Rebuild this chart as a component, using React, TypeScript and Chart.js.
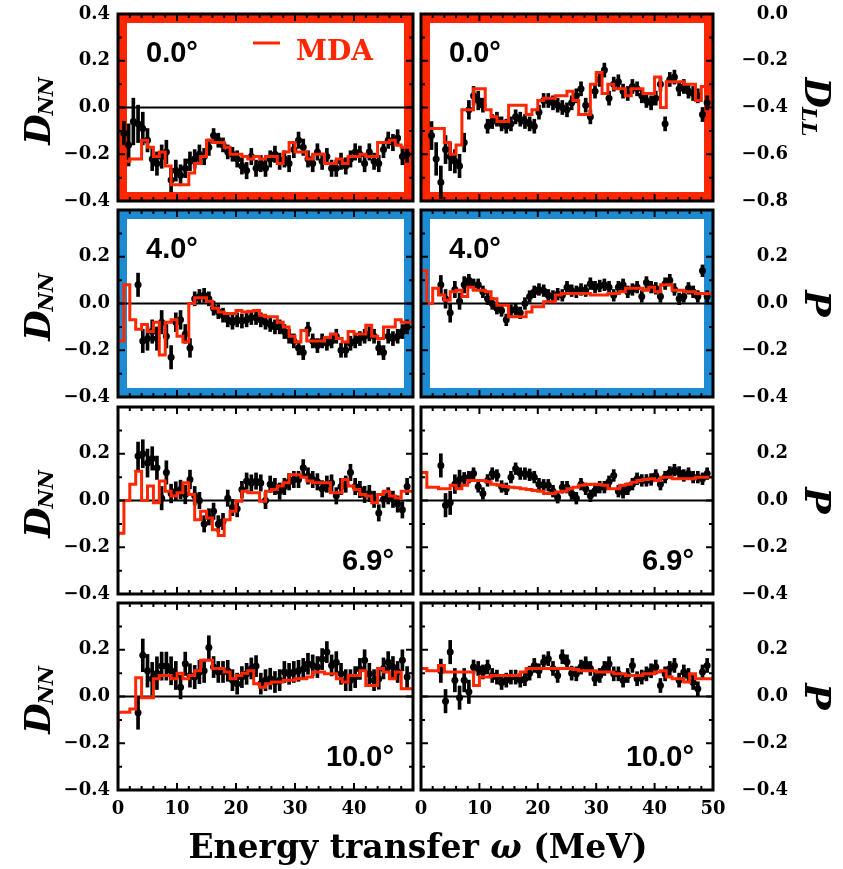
import React, { useEffect, useRef } from 'react';
import { Chart, registerables } from 'chart.js';

Chart.register(...registerables);

// ---------------- data ----------------
const energies = [
  1.0, 1.8, 2.6, 3.4, 4.2, 5.0, 5.8, 6.6, 7.4, 8.2,
  9.0, 9.8, 10.6, 11.4, 12.2, 13.0, 13.8, 14.6, 15.4, 16.2,
  17.0, 17.8, 18.6, 19.4, 20.2, 21.0, 21.8, 22.6, 23.4, 24.2,
  25.0, 25.8, 26.6, 27.4, 28.2, 29.0, 29.8, 30.6, 31.4, 32.2,
  33.0, 33.8, 34.6, 35.4, 36.2, 37.0, 37.8, 38.6, 39.4, 40.2,
  41.0, 41.8, 42.6, 43.4, 44.2, 45.0, 45.8, 46.6, 47.4, 48.2,
  49.0,
];

const mdaEnergy = [
  0, 1, 2, 3, 4, 5, 6, 7, 8, 9,
  10, 11, 12, 13, 14, 15, 16, 17, 18, 19,
  20, 21, 22, 23, 24, 25, 26, 27, 28, 29,
  30, 31, 32, 33, 34, 35, 36, 37, 38, 39,
  40, 41, 42, 43, 44, 45, 46, 47, 48, 49,
  50,
];

const xTicks = [0, 10, 20, 30, 40, 50];
const yTicksDNN = [-0.4, -0.2, 0.0, 0.2, 0.4];
const yTicksDLL = [-0.8, -0.6, -0.4, -0.2, 0.0];

// 0.0 deg, D_NN
const dnn00 = [
  -0.11, -0.16, -0.06, -0.07, -0.09, -0.14, -0.22, -0.24, -0.21, -0.19,
  -0.31, -0.27, -0.29, -0.26, -0.23, -0.22, -0.2, -0.21, -0.17, -0.12,
  -0.14, -0.16, -0.19, -0.2, -0.22, -0.25, -0.27, -0.21, -0.26, -0.24,
  -0.26, -0.22, -0.2, -0.23, -0.22, -0.24, -0.18, -0.14, -0.17, -0.22,
  -0.24, -0.19, -0.23, -0.21, -0.26, -0.26, -0.23, -0.25, -0.22, -0.19,
  -0.2, -0.24, -0.19, -0.23, -0.24, -0.18, -0.14, -0.15, -0.13, -0.21,
  -0.2,
];
const dnn00Err = [
  0.05, 0.09, 0.1, 0.08, 0.07, 0.05, 0.05, 0.05, 0.05, 0.05,
  0.05, 0.045, 0.045, 0.04, 0.04, 0.04, 0.04, 0.035, 0.035, 0.03,
  0.03, 0.03, 0.03, 0.03, 0.035, 0.035, 0.035, 0.035, 0.035, 0.035,
  0.035, 0.035, 0.035, 0.035, 0.035, 0.035, 0.035, 0.035, 0.035, 0.035,
  0.035, 0.035, 0.035, 0.035, 0.035, 0.035, 0.035, 0.035, 0.035, 0.035,
  0.035, 0.035, 0.035, 0.035, 0.035, 0.035, 0.035, 0.035, 0.035, 0.035,
  0.035,
];
const dnn00Mda = [
  -0.18, -0.23, -0.23, -0.22, -0.22, -0.14, -0.17, -0.21, -0.19, -0.25,
  -0.33, -0.33, -0.33, -0.28, -0.24, -0.21, -0.14, -0.15, -0.15, -0.17,
  -0.2, -0.2, -0.21, -0.22, -0.21, -0.22, -0.21, -0.21, -0.24, -0.19,
  -0.15, -0.19, -0.19, -0.22, -0.2, -0.2, -0.24, -0.24, -0.22, -0.24,
  -0.21, -0.21, -0.2, -0.21, -0.21, -0.15, -0.15, -0.14, -0.16, -0.17,
  -0.17,
];

// 0.0 deg, D_LL
const dll00 = [
  null, -0.52, -0.62, -0.72, -0.58, -0.61, -0.63, -0.65, -0.55, -0.41,
  -0.35, -0.37, -0.39, -0.48, -0.46, -0.45, -0.47, -0.48, -0.47, -0.44,
  -0.45, -0.46, -0.47, -0.48, -0.42, -0.37, -0.37, -0.38, -0.39, -0.4,
  -0.41, -0.38, -0.35, -0.32, -0.39, -0.44, -0.33, -0.28, -0.24, -0.36,
  -0.3, -0.29, -0.33, -0.34, -0.31, -0.32, -0.35, -0.37, -0.38, -0.36,
  -0.3, -0.47, -0.28, -0.27, -0.32, -0.31, -0.33, -0.34, -0.35, -0.43,
  -0.38,
];
const dll00Err = [
  0, 0.06, 0.07, 0.07, 0.06, 0.06, 0.05, 0.05, 0.04, 0.04,
  0.04, 0.04, 0.03, 0.03, 0.03, 0.03, 0.03, 0.03, 0.03, 0.03,
  0.03, 0.03, 0.03, 0.03, 0.03, 0.03, 0.03, 0.03, 0.03, 0.03,
  0.03, 0.03, 0.03, 0.03, 0.03, 0.03, 0.03, 0.03, 0.03, 0.03,
  0.03, 0.03, 0.03, 0.03, 0.03, 0.03, 0.03, 0.03, 0.03, 0.03,
  0.03, 0.03, 0.03, 0.03, 0.03, 0.03, 0.03, 0.03, 0.03, 0.03,
  0.03,
];
const dll00Mda = [
  -0.22, -0.49, -0.49, -0.49, -0.49, -0.55, -0.6, -0.56, -0.41, -0.41,
  -0.32, -0.32, -0.41, -0.44, -0.46, -0.46, -0.39, -0.39, -0.39, -0.43,
  -0.41, -0.37, -0.36, -0.36, -0.35, -0.35, -0.33, -0.37, -0.43, -0.43,
  -0.3, -0.25, -0.34, -0.3, -0.32, -0.32, -0.35, -0.32, -0.32, -0.34,
  -0.34, -0.27, -0.4, -0.29, -0.29, -0.29, -0.3, -0.3, -0.37, -0.31,
  -0.31,
];

// 4.0 deg, D_NN
const dnn40 = [
  null, null, null, 0.08, -0.16, -0.15, -0.12, -0.15, -0.08, -0.14,
  -0.23, -0.08, -0.07, -0.13, -0.19, 0.02, 0.03, 0.035, 0.02, -0.02,
  -0.035, -0.05, -0.07, -0.08, -0.07, -0.075, -0.07, -0.06, -0.06, -0.07,
  -0.08, -0.09, -0.1, -0.1, -0.12, -0.14, -0.16, -0.19, -0.21, -0.11,
  -0.16, -0.18, -0.16, -0.17, -0.16, -0.14, -0.2, -0.2, -0.17, -0.16,
  -0.15, -0.14, -0.13, -0.14, -0.19, -0.21, -0.14, -0.15, -0.14, -0.12,
  -0.1,
];
const dnn40Err = [
  0, 0, 0, 0.05, 0.05, 0.05, 0.05, 0.05, 0.05, 0.05,
  0.05, 0.04, 0.04, 0.04, 0.04, 0.03, 0.03, 0.03, 0.03, 0.03,
  0.03, 0.03, 0.03, 0.03, 0.03, 0.03, 0.03, 0.03, 0.03, 0.03,
  0.03, 0.03, 0.03, 0.03, 0.03, 0.03, 0.03, 0.03, 0.03, 0.03,
  0.03, 0.03, 0.03, 0.03, 0.03, 0.03, 0.03, 0.03, 0.03, 0.03,
  0.03, 0.03, 0.03, 0.03, 0.03, 0.03, 0.03, 0.03, 0.03, 0.03,
  0.03,
];
const dnn40Mda = [
  0.036, -0.16, 0.08, -0.07, -0.11, -0.09, -0.12, -0.08, -0.22, -0.08,
  -0.07, -0.14, -0.165, 0.0, 0.025, 0.025, 0.01, -0.02, -0.036, -0.043,
  -0.043, -0.03, -0.036, -0.033, -0.03, -0.05, -0.057, -0.057, -0.08, -0.1,
  -0.14, -0.165, -0.115, -0.16, -0.16, -0.16, -0.145, -0.13, -0.15, -0.165,
  -0.12, -0.13, -0.13, -0.093, -0.14, -0.15, -0.1, -0.1, -0.07, -0.08,
  -0.08,
];

// 4.0 deg, P
const p40 = [
  null, null, null, 0.08, 0.02, -0.04, 0.06, 0.01, 0.08, 0.1,
  0.08, 0.08, 0.05, 0.02, 0.0, -0.02, -0.03, -0.07, -0.03, -0.025,
  -0.04, 0.0, 0.03, 0.05, 0.06, 0.055, 0.035, 0.03, 0.04, 0.035,
  0.07, 0.055, 0.05, 0.06, 0.055, 0.085, 0.07, 0.075, 0.08, 0.07,
  0.035, 0.07, 0.08, 0.05, 0.06, 0.07, 0.03, 0.09, 0.07, 0.065,
  0.03, 0.085, 0.1, 0.06, 0.02, 0.03, 0.065, 0.05, 0.03, 0.14,
  0.03,
];
const p40Err = [
  0, 0, 0, 0.04, 0.04, 0.04, 0.035, 0.035, 0.035, 0.025,
  0.025, 0.025, 0.025, 0.025, 0.025, 0.025, 0.025, 0.025, 0.025, 0.025,
  0.025, 0.025, 0.025, 0.025, 0.025, 0.025, 0.025, 0.025, 0.025, 0.025,
  0.025, 0.025, 0.025, 0.025, 0.025, 0.025, 0.025, 0.025, 0.025, 0.025,
  0.025, 0.025, 0.025, 0.025, 0.025, 0.025, 0.025, 0.025, 0.025, 0.025,
  0.025, 0.025, 0.025, 0.025, 0.025, 0.025, 0.025, 0.025, 0.025, 0.025,
  0.025,
];
const p40Mda = [
  0.14, 0.14, 0.0, 0.065, 0.036, 0.014, 0.05, 0.057, 0.03, 0.07,
  0.057, 0.057, 0.05, 0.02, -0.007, -0.007, -0.057, -0.057, -0.057, -0.036,
  -0.014, -0.014, 0.007, 0.007, 0.036, 0.043, 0.043, 0.043, 0.043, 0.043,
  0.036, 0.036, 0.036, 0.043, 0.043, 0.05, 0.065, 0.065, 0.065, 0.057,
  0.07, 0.05, 0.08, 0.08, 0.057, 0.057, 0.05, 0.05, 0.043, 0.043,
  0.043,
];

// 6.9 deg, D_NN
const dnn69 = [
  null, null, null, 0.19, 0.2, 0.16, 0.18, 0.14, 0.01, 0.12,
  0.03, 0.04, 0.047, 0.026, 0.09, 0.02, 0.0, -0.1, -0.07, -0.046,
  -0.1, -0.09, 0.01, -0.03, -0.035, 0.047, 0.083, 0.075, 0.083, 0.075,
  0.0, 0.07, 0.06, 0.04, 0.06, 0.08, 0.09, 0.09, 0.14, 0.105,
  0.09, 0.08, 0.05, 0.07, 0.075, 0.02, 0.06, 0.07, 0.12, 0.06,
  0.047, 0.026, 0.03, 0.005, -0.053, 0.005, 0.02, 0.005, -0.015, -0.04,
  0.06,
];
const dnn69Err = [
  0, 0, 0, 0.06, 0.06, 0.06, 0.05, 0.05, 0.05, 0.05,
  0.04, 0.04, 0.04, 0.04, 0.04, 0.04, 0.035, 0.035, 0.035, 0.035,
  0.035, 0.035, 0.035, 0.035, 0.035, 0.035, 0.035, 0.035, 0.035, 0.035,
  0.035, 0.035, 0.035, 0.035, 0.035, 0.035, 0.035, 0.035, 0.035, 0.035,
  0.035, 0.035, 0.035, 0.035, 0.035, 0.035, 0.035, 0.035, 0.035, 0.035,
  0.035, 0.035, 0.035, 0.035, 0.035, 0.035, 0.035, 0.035, 0.035, 0.035,
  0.035,
];
const dnn69Mda = [
  -0.155, -0.14, 0.0, 0.07, 0.125, 0.0, 0.062, -0.01, 0.083, 0.04,
  0.019, 0.033, 0.076, 0.026, -0.082, -0.046, -0.075, -0.125, -0.15, -0.082,
  -0.046, -0.003, 0.04, 0.033, 0.033, -0.003, 0.04, 0.047, 0.062, 0.076,
  0.11, 0.11, 0.1, 0.083, 0.076, 0.076, 0.076, 0.033, 0.033, 0.09,
  0.062, 0.047, 0.026, 0.019, -0.01, 0.026, 0.04, 0.019, 0.011, 0.04,
  0.04,
];

// 6.9 deg, P
const p69 = [
  null, null, null, 0.15, -0.02, -0.01, 0.07, 0.09, 0.095, 0.1,
  0.115, 0.06, 0.03, 0.086, 0.115, 0.107, 0.06, 0.05, 0.1, 0.136,
  0.115, 0.115, 0.11, 0.1, 0.07, 0.065, 0.065, 0.04, 0.014, 0.057,
  0.057, 0.03, 0.01, 0.07, 0.05, 0.02, 0.043, 0.057, 0.057, 0.08,
  0.107, 0.04, 0.035, 0.05, 0.07, 0.093, 0.086, 0.086, 0.09, 0.107,
  0.07, 0.1, 0.12, 0.13, 0.12, 0.107, 0.115, 0.1, 0.1, 0.093,
  0.115,
];
const p69Err = [
  0, 0, 0, 0.05, 0.05, 0.05, 0.04, 0.04, 0.025, 0.025,
  0.025, 0.025, 0.025, 0.025, 0.025, 0.025, 0.025, 0.025, 0.025, 0.025,
  0.025, 0.025, 0.025, 0.025, 0.025, 0.025, 0.025, 0.025, 0.025, 0.025,
  0.025, 0.025, 0.025, 0.025, 0.025, 0.025, 0.025, 0.025, 0.025, 0.025,
  0.025, 0.025, 0.025, 0.025, 0.025, 0.025, 0.025, 0.025, 0.025, 0.025,
  0.025, 0.025, 0.025, 0.025, 0.025, 0.025, 0.025, 0.025, 0.025, 0.025,
  0.025,
];
const p69Mda = [
  0.12, 0.12, 0.057, 0.057, 0.05, 0.05, 0.065, 0.05, 0.065, 0.086,
  0.086, 0.086, 0.08, 0.07, 0.065, 0.06, 0.057, 0.055, 0.05, 0.047,
  0.043, 0.04, 0.03, 0.03, 0.036, 0.04, 0.05, 0.057, 0.065, 0.068,
  0.07, 0.068, 0.065, 0.05, 0.05, 0.065, 0.07, 0.078, 0.086, 0.09,
  0.093, 0.086, 0.1, 0.1, 0.093, 0.093, 0.093, 0.093, 0.1, 0.1,
  0.1,
];

// 10.0 deg, D_NN
const dnn100 = [
  null, null, null, -0.07, 0.176, 0.11, 0.076, 0.1, 0.13, 0.13,
  0.11, 0.09, 0.04, 0.14, 0.09, 0.083, 0.105, 0.11, 0.21, 0.126,
  0.105, 0.105, 0.11, 0.07, 0.055, 0.083, 0.097, 0.12, 0.13, 0.055,
  0.07, 0.076, 0.062, 0.07, 0.105, 0.097, 0.105, 0.11, 0.118, 0.14,
  0.133, 0.126, 0.16, 0.19, 0.133, 0.147, 0.097, 0.07, 0.07, 0.083,
  0.118, 0.155, 0.097, 0.07, 0.076, 0.12, 0.147, 0.126, 0.105, 0.155,
  0.083,
];
const dnn100Err = [
  0, 0, 0, 0.07, 0.07, 0.07, 0.07, 0.07, 0.06, 0.06,
  0.06, 0.06, 0.05, 0.05, 0.05, 0.05, 0.05, 0.05, 0.05, 0.045,
  0.045, 0.045, 0.045, 0.045, 0.045, 0.045, 0.045, 0.045, 0.045, 0.045,
  0.045, 0.045, 0.045, 0.045, 0.045, 0.045, 0.045, 0.045, 0.045, 0.045,
  0.045, 0.045, 0.045, 0.045, 0.045, 0.045, 0.045, 0.045, 0.045, 0.045,
  0.045, 0.045, 0.045, 0.045, 0.045, 0.045, 0.045, 0.045, 0.045, 0.045,
  0.045,
];
const dnn100Mda = [
  -0.14, -0.067, -0.067, -0.053, 0.08, -0.005, -0.005, 0.076, 0.09, 0.09,
  0.076, 0.1, 0.076, 0.09, 0.11, 0.155, 0.155, 0.12, 0.12, 0.105,
  0.076, 0.09, 0.1, 0.11, 0.055, 0.04, 0.055, 0.062, 0.062, 0.07,
  0.07, 0.076, 0.076, 0.083, 0.105, 0.105, 0.097, 0.097, 0.076, 0.062,
  0.09, 0.09, 0.11, 0.047, 0.047, 0.12, 0.105, 0.076, 0.105, 0.033,
  0.033,
];

// 10.0 deg, P
const p100 = [
  null, null, null, 0.11, -0.02, 0.19, 0.07, -0.005, 0.07, 0.02,
  0.126, 0.12, 0.105, 0.126, 0.09, 0.083, 0.06, 0.07, 0.083, 0.083,
  0.07, 0.076, 0.1, 0.133, 0.11, 0.148, 0.162, 0.12, 0.09, 0.17,
  0.148, 0.1, 0.097, 0.126, 0.14, 0.12, 0.076, 0.09, 0.12, 0.14,
  0.097, 0.097, 0.07, 0.09, 0.133, 0.076, 0.083, 0.097, 0.11, 0.126,
  0.047, 0.097, 0.12, 0.133, 0.07, 0.105, 0.09, 0.06, 0.033, 0.105,
  0.133,
];
const p100Err = [
  0, 0, 0, 0.05, 0.05, 0.05, 0.05, 0.05, 0.05, 0.05,
  0.03, 0.03, 0.03, 0.03, 0.03, 0.03, 0.03, 0.03, 0.03, 0.03,
  0.03, 0.03, 0.03, 0.03, 0.03, 0.03, 0.03, 0.03, 0.03, 0.03,
  0.03, 0.03, 0.03, 0.03, 0.03, 0.03, 0.03, 0.03, 0.03, 0.03,
  0.03, 0.03, 0.03, 0.03, 0.03, 0.03, 0.03, 0.03, 0.03, 0.03,
  0.03, 0.03, 0.03, 0.03, 0.03, 0.03, 0.03, 0.03, 0.03, 0.03,
  0.03,
];
const p100Mda = [
  0.12, 0.12, 0.11, 0.11, 0.133, 0.105, 0.105, 0.105, 0.105, 0.105,
  0.047, 0.083, 0.083, 0.09, 0.09, 0.09, 0.09, 0.09, 0.105, 0.12,
  0.12, 0.12, 0.12, 0.12, 0.12, 0.12, 0.12, 0.115, 0.11, 0.11,
  0.11, 0.105, 0.105, 0.105, 0.097, 0.097, 0.09, 0.09, 0.09, 0.097,
  0.097, 0.105, 0.11, 0.083, 0.076, 0.076, 0.062, 0.097, 0.076, 0.076,
  0.076,
];

// ---------------- styling / layout ----------------
const RED = '#ff2600';
const BLUE = '#1c8bd2';
const ROW_TOP = [14, 210, 407, 603];
const PLOT_H = 187;
const PAD_TOP = 22;
const SERIF = '"DejaVu Serif", "Liberation Serif", serif';
const SANS = '"Liberation Sans", Arial, sans-serif';
const TICK_FONT = { family: SERIF, size: 18, weight: 'bold' as const };

type Spec = {
  row: number; col: number;
  values: (number | null)[]; errors: number[]; mda: number[];
  yMin: number; yMax: number; yTicks: number[];
  frame: string | null; zero: boolean;
  angle: string; anglePos: 'top' | 'bottom';
  title: [string, string]; legend: boolean; showTop: boolean;
};

const panels: Spec[] = [
  { row: 0, col: 0, values: dnn00, errors: dnn00Err, mda: dnn00Mda, yMin: -0.4, yMax: 0.4, yTicks: yTicksDNN, frame: RED, zero: true, angle: '0.0°', anglePos: 'top', title: ['D', 'NN'], legend: true, showTop: true },
  { row: 0, col: 1, values: dll00, errors: dll00Err, mda: dll00Mda, yMin: -0.8, yMax: 0.0, yTicks: yTicksDLL, frame: RED, zero: false, angle: '0.0°', anglePos: 'top', title: ['D', 'LL'], legend: false, showTop: true },
  { row: 1, col: 0, values: dnn40, errors: dnn40Err, mda: dnn40Mda, yMin: -0.4, yMax: 0.4, yTicks: yTicksDNN, frame: BLUE, zero: true, angle: '4.0°', anglePos: 'top', title: ['D', 'NN'], legend: false, showTop: false },
  { row: 1, col: 1, values: p40, errors: p40Err, mda: p40Mda, yMin: -0.4, yMax: 0.4, yTicks: yTicksDNN, frame: BLUE, zero: true, angle: '4.0°', anglePos: 'top', title: ['P', ''], legend: false, showTop: false },
  { row: 2, col: 0, values: dnn69, errors: dnn69Err, mda: dnn69Mda, yMin: -0.4, yMax: 0.4, yTicks: yTicksDNN, frame: null, zero: true, angle: '6.9°', anglePos: 'bottom', title: ['D', 'NN'], legend: false, showTop: false },
  { row: 2, col: 1, values: p69, errors: p69Err, mda: p69Mda, yMin: -0.4, yMax: 0.4, yTicks: yTicksDNN, frame: null, zero: true, angle: '6.9°', anglePos: 'bottom', title: ['P', ''], legend: false, showTop: false },
  { row: 3, col: 0, values: dnn100, errors: dnn100Err, mda: dnn100Mda, yMin: -0.4, yMax: 0.4, yTicks: yTicksDNN, frame: null, zero: true, angle: '10.0°', anglePos: 'bottom', title: ['D', 'NN'], legend: false, showTop: false },
  { row: 3, col: 1, values: p100, errors: p100Err, mda: p100Mda, yMin: -0.4, yMax: 0.4, yTicks: yTicksDNN, frame: null, zero: true, angle: '10.0°', anglePos: 'bottom', title: ['P', ''], legend: false, showTop: false },
];

function fmtTick(v: number) {
  const r = Math.round(v * 10) / 10;
  if (Math.abs(r) < 1e-9) return '0.0';
  return (r < 0 ? '\u2212' : '') + Math.abs(r).toFixed(1);
}

function drawTitle(ctx: CanvasRenderingContext2D, main: string, sub: string, bx: number, cy: number, rot: number) {
  ctx.save();
  ctx.translate(bx, cy);
  ctx.rotate(rot);
  const fMain = `italic bold 35px ${SERIF}`;
  const fSub = `italic bold 21px ${SERIF}`;
  ctx.font = fMain;
  const wM = ctx.measureText(main).width;
  ctx.font = fSub;
  const wS = sub ? ctx.measureText(sub).width : 0;
  const total = wM + wS;
  const x0 = -total / 2;
  ctx.fillStyle = '#000';
  ctx.textAlign = 'left';
  ctx.textBaseline = 'alphabetic';
  ctx.font = fMain;
  ctx.fillText(main, x0, 0);
  if (sub) {
    ctx.font = fSub;
    ctx.fillText(sub, x0 + wM - 1, 3);
  }
  ctx.restore();
}

function makeDecor(spec: Spec) {
  return {
    id: 'panelDecor',
    beforeDatasetsDraw(chart: any) {
      const { ctx, chartArea: a } = chart;
      ctx.save();
      if (spec.frame) {
        const t = 9;
        ctx.fillStyle = spec.frame;
        ctx.fillRect(a.left, a.top, a.right - a.left, t);
        ctx.fillRect(a.left, a.bottom - t, a.right - a.left, t);
        ctx.fillRect(a.left, a.top, t, a.bottom - a.top);
        ctx.fillRect(a.right - t, a.top, t, a.bottom - a.top);
      }
      if (spec.zero) {
        const y = chart.scales.y.getPixelForValue(0);
        ctx.strokeStyle = '#000';
        ctx.lineWidth = 2;
        ctx.beginPath();
        ctx.moveTo(a.left, y);
        ctx.lineTo(a.right, y);
        ctx.stroke();
      }
      ctx.restore();
    },
    afterDatasetsDraw(chart: any) {
      const { ctx, chartArea: a, scales } = chart;
      const xs = scales.x;
      const ys = scales.y;
      ctx.save();
      ctx.strokeStyle = '#000';
      ctx.lineWidth = 2;
      ctx.beginPath();
      for (let i = 0; i < xTicks.length - 1; i++) {
        for (let k = 0; k < 5; k++) {
          const v = xTicks[i] + ((xTicks[i + 1] - xTicks[i]) * k) / 5;
          const px = xs.getPixelForValue(v);
          const len = k === 0 ? 7 : 4;
          ctx.moveTo(px, a.bottom);
          ctx.lineTo(px, a.bottom - len);
          ctx.moveTo(px, a.top);
          ctx.lineTo(px, a.top + len);
        }
      }
      const yt = spec.yTicks;
      for (let i = 0; i < yt.length - 1; i++) {
        for (let k = 0; k < 2; k++) {
          const v = yt[i] + ((yt[i + 1] - yt[i]) * k) / 2;
          const py = ys.getPixelForValue(v);
          const len = k === 0 ? 7 : 4;
          ctx.moveTo(a.left, py);
          ctx.lineTo(a.left + len, py);
          ctx.moveTo(a.right, py);
          ctx.lineTo(a.right - len, py);
        }
      }
      ctx.stroke();
      ctx.lineWidth = 3;
      ctx.strokeRect(a.left, a.top, a.right - a.left, a.bottom - a.top);

      // angle label
      ctx.fillStyle = '#000';
      ctx.font = `bold 29px ${SANS}`;
      ctx.textBaseline = 'alphabetic';
      if (spec.anglePos === 'top') {
        ctx.textAlign = 'left';
        ctx.fillText(spec.angle, a.left + 28, a.top + 48);
      } else {
        ctx.textAlign = 'right';
        ctx.fillText(spec.angle, a.right - 19, a.bottom - 24);
      }

      // legend
      if (spec.legend) {
        ctx.strokeStyle = RED;
        ctx.lineWidth = 3;
        ctx.beginPath();
        ctx.moveTo(a.left + 135, a.top + 29);
        ctx.lineTo(a.left + 162, a.top + 29);
        ctx.stroke();
        ctx.fillStyle = RED;
        ctx.font = `bold 28px ${SERIF}`;
        ctx.textAlign = 'left';
        ctx.fillText(chart.data.datasets[0].label, a.left + 178, a.top + 46);
      }

      // axis title
      const cy = (a.top + a.bottom) / 2;
      if (spec.col === 0) {
        drawTitle(ctx, spec.title[0], spec.title[1], a.left - 68, cy + 3, -Math.PI / 2);
      } else {
        drawTitle(ctx, spec.title[0], spec.title[1], a.right + 92, cy, Math.PI / 2);
      }
      ctx.restore();
    },
  };
}

function Panel({ spec }: { spec: Spec }) {
  const ref = useRef<HTMLCanvasElement>(null);
  const isLeft = spec.col === 0;
  const canvasLeft = isLeft ? 0 : 413;
  const width = isLeft ? 416 : 430;
  const xAxisH = spec.row === 3 ? 45 : 22;
  const top = ROW_TOP[spec.row] - PAD_TOP;
  const height = PAD_TOP + PLOT_H + xAxisH;

  useEffect(() => {
    if (!ref.current) return;
    const pts: { x: number; y: number }[] = [];
    const bars: { x: number; y: [number, number] }[] = [];
    energies.forEach((e, i) => {
      const v = spec.values[i];
      if (v === null || v === undefined) return;
      pts.push({ x: e, y: v });
      bars.push({ x: e, y: [v - spec.errors[i], v + spec.errors[i]] });
    });
    const mdaPts = mdaEnergy.map((e, i) => ({ x: e, y: spec.mda[i] }));

    const chart = new Chart(ref.current, {
      type: 'scatter',
      data: {
        datasets: [
          {
            type: 'line',
            label: 'MDA',
            data: mdaPts,
            borderColor: RED,
            backgroundColor: RED,
            borderWidth: 3,
            pointRadius: 0,
            stepped: 'after',
            fill: false,
            order: 0,
          } as any,
          {
            type: 'scatter',
            label: 'data',
            data: pts,
            backgroundColor: '#000',
            borderColor: '#000',
            borderWidth: 0,
            pointRadius: 3.5,
            order: 1,
          } as any,
          {
            type: 'bar',
            label: 'err',
            data: bars,
            backgroundColor: '#000',
            borderWidth: 0,
            barThickness: 3,
            order: 2,
          } as any,
        ],
      },
      options: {
        animation: false,
        responsive: false,
        events: [],
        layout: {
          autoPadding: false,
          padding: isLeft
            ? { top: PAD_TOP, left: 0, right: 3, bottom: 0 }
            : { top: PAD_TOP, left: 8, right: 55, bottom: 0 },
        },
        plugins: {
          legend: { display: false },
          tooltip: { enabled: false },
        },
        scales: {
          x: {
            type: 'linear',
            min: 0,
            max: 50,
            offset: false,
            grid: { display: false, drawTicks: true, tickLength: 9 },
            border: { display: false },
            afterBuildTicks: (s: any) => {
              s.ticks = xTicks.map((v) => ({ value: v }));
            },
            ticks: {
              display: spec.row === 3,
              color: '#000',
              font: TICK_FONT,
              padding: 0,
              maxRotation: 0,
              autoSkip: false,
              callback: (v: any) => (isLeft && Number(v) === 50 ? '' : String(v)),
            },
            afterFit: (s: any) => {
              s.height = xAxisH;
            },
          },
          y: {
            type: 'linear',
            position: isLeft ? 'left' : 'right',
            min: spec.yMin,
            max: spec.yMax,
            grid: { display: false, drawTicks: false },
            border: { display: false },
            afterBuildTicks: (s: any) => {
              s.ticks = spec.yTicks.map((v) => ({ value: v }));
            },
            ticks: {
              color: '#000',
              font: TICK_FONT,
              padding: isLeft ? 8 : 0,
              crossAlign: isLeft ? 'near' : 'far',
              autoSkip: false,
              callback: (v: any) => (!spec.showTop && Number(v) > 0.39 ? '' : fmtTick(Number(v))),
            },
            afterFit: (s: any) => {
              s.width = isLeft ? 118 : 75;
            },
          },
        },
      } as any,
      plugins: [makeDecor(spec) as any],
    });
    return () => chart.destroy();
  }, []);

  return (
    <canvas
      ref={ref}
      width={width}
      height={height}
      style={{ position: 'absolute', left: canvasLeft, top, width, height }}
    />
  );
}

export default function App() {
  return (
    <div
      style={{
        position: 'absolute',
        left: 0,
        top: 0,
        width: 843,
        height: 869,
        background: '#fff',
        overflow: 'hidden',
      }}
    >
      {panels.map((p, i) => (
        <Panel key={i} spec={p} />
      ))}
      <div
        style={{
          position: 'absolute',
          left: 118,
          top: 830,
          width: 600,
          textAlign: 'center',
          fontFamily: SERIF,
          fontWeight: 'bold',
          fontSize: 33,
          lineHeight: '33px',
          whiteSpace: 'nowrap',
          color: '#000',
        }}
      >
        Energy transfer <i>ω</i> (MeV)
      </div>
    </div>
  );
}
